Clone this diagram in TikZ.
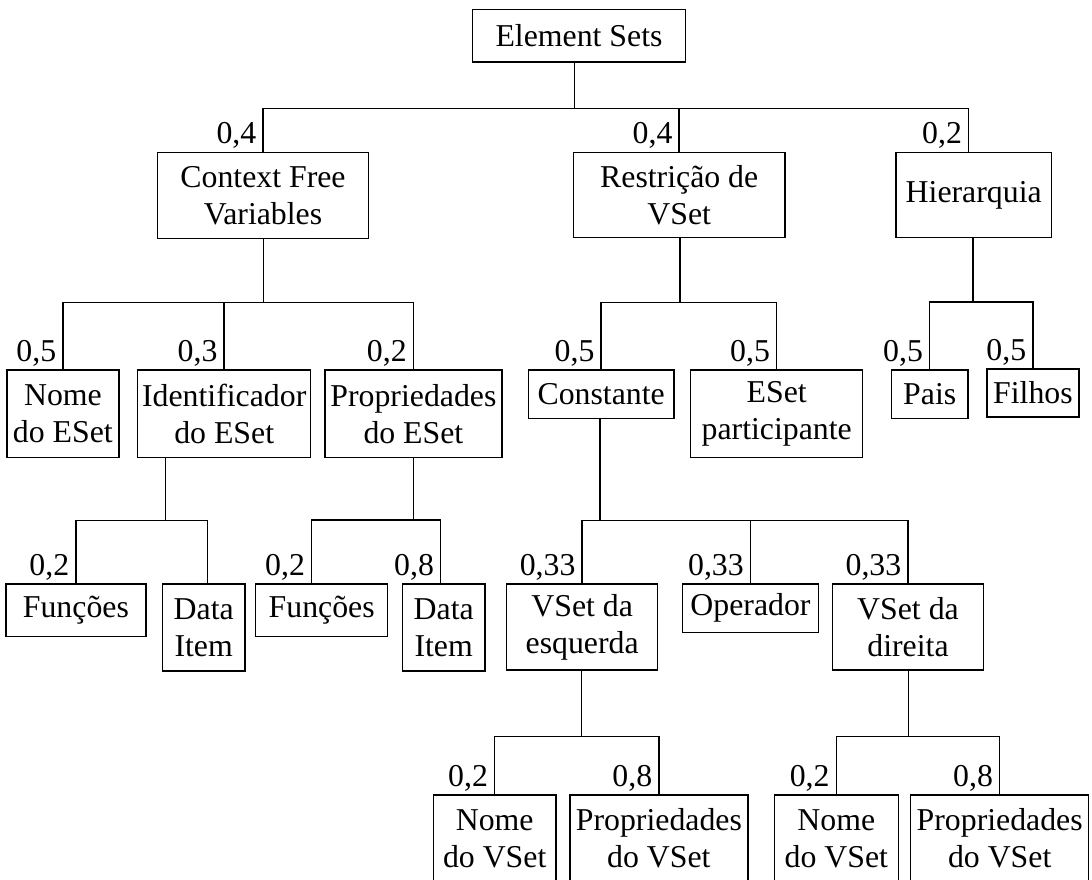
\documentclass[tikz,border=0pt]{standalone}
\usepackage{fontspec}
\setmainfont{Liberation Serif}
\usepackage{tikz}

\begin{document}
\begin{tikzpicture}[x=1pt, y=-1pt, line width=1.5pt,
	box/.style={draw, inner sep=0pt, align=center, font=\fontsize{31.8}{37}\selectfont},
	wt/.style={anchor=base east, xshift=-6pt, yshift=8pt, inner sep=0pt, font=\fontsize{31.8}{37}\selectfont}]
	\useasboundingbox (0,0) rectangle (1092,879);
	% level 0 and 1
	\node[box, minimum width=212.6pt, minimum height=52.7pt] (sets) at (579,35.7) {Element Sets};
	\node[box, minimum width=210.6pt, minimum height=86pt] (cfv) at (263,195.7) {Context Free\\Variables};
	\node[box, minimum width=211.7pt, minimum height=85pt] (restr) at (679.2,195.2) {Restrição de\\VSet};
	\node[box, minimum width=155.3pt, minimum height=85pt] (hier) at (973.7,195.2) {Hierarquia};
	% level 2
	\node[box, minimum width=112.3pt, minimum height=87.3pt] (nomeES) at (62.9,413.7) {Nome\\do ESet};
	\node[box, minimum width=173pt, minimum height=87.3pt] (idES) at (224.2,413.7) {Identificador\\do ESet};
	\node[box, minimum width=176.7pt, minimum height=87.3pt] (propES) at (413.4,413.7) {Propriedades\\do ESet};
	\node[box, minimum width=145.7pt, minimum height=48.3pt] (const) at (601.2,394.2) {Constante};
	\node[box, minimum width=172pt, minimum height=87.3pt] (esetp) at (776.7,413.7) {ESet\\participante};
	\node[box, minimum width=76.7pt, minimum height=48.3pt] (pais) at (929.7,394.2) {Pais};
	\node[box, minimum width=91.7pt, minimum height=48.3pt] (filhos) at (1032.9,393) {Filhos};
	% level 3
	\node[box, minimum width=139.7pt, minimum height=52.3pt] (funcA) at (75.9,610.2) {Funções};
	\node[box, minimum width=82.7pt, minimum height=86.7pt] (dataA) at (203.7,627.4) {Data\\Item};
	\node[box, minimum width=132pt, minimum height=52.3pt] (funcB) at (321.7,610.2) {Funções};
	\node[box, minimum width=82.7pt, minimum height=86.7pt] (dataB) at (443.7,627.4) {Data\\Item};
	\node[box, minimum width=151pt, minimum height=85.7pt] (vesq) at (582.2,626.9) {VSet da\\esquerda};
	\node[box, minimum width=135.6pt, minimum height=48.3pt] (oper) at (750.5,608.2) {Operador};
	\node[box, minimum width=150.6pt, minimum height=85.7pt] (vdir) at (908,626.9) {VSet da\\direita};
	% level 4
	\node[box, minimum width=122.7pt, minimum height=87pt] (nomeVA) at (494.7,838.5) {Nome\\do VSet};
	\node[box, minimum width=177.7pt, minimum height=87pt] (propVA) at (658.9,838.5) {Propriedades\\do VSet};
	\node[box, minimum width=124pt, minimum height=87pt] (nomeVB) at (836.3,838.5) {Nome\\do VSet};
	\node[box, minimum width=178pt, minimum height=87pt] (propVB) at (999.7,838.5) {Propriedades\\do VSet};
	% junctions
	\coordinate (jsets) at (574.5,108.3);
	\coordinate (jcfv) at (263.3,302.3);
	\coordinate (jrestr) at (680,302.3);
	\coordinate (jhier) at (973,302);
	\coordinate (jid) at (165.7,520.5);
	\coordinate (jprop) at (413.3,520);
	\coordinate (jconst) at (600,520.3);
	\coordinate (jvesq) at (581.7,736.5);
	\coordinate (jvdir) at (908.3,736.7);
	% connectors
	\draw (sets.south -| jsets) -- (jsets);
	\draw (cfv.north) node[wt] (wcfv) {0,4} |- (jsets);
	\draw (restr.north) node[wt] (wrestr) {0,4} |- (jsets);
	\draw ([xshift=-5pt]hier.north) node[wt] (whier) {0,2} |- (jsets);
	\draw (cfv.south -| jcfv) -- (jcfv);
	\draw (nomeES.north) node[wt] (wnomeES) {0,5} |- (jcfv);
	\draw (idES.north) node[wt] (widES) {0,3} |- (jcfv);
	\draw (propES.north) node[wt] (wpropES) {0,2} |- (jcfv);
	\draw (restr.south -| jrestr) -- (jrestr);
	\draw (const.north) node[wt] (wconst) {0,5} |- (jrestr);
	\draw (esetp.north) node[wt] (wesetp) {0,5} |- (jrestr);
	\draw (hier.south -| jhier) -- (jhier);
	\draw (pais.north) node[wt] (wpais) {0,5} |- (jhier);
	\draw (filhos.north) node[wt] (wfilhos) {0,5} |- (jhier);
	\draw (idES.south -| jid) -- (jid);
	\draw (funcA.north) node[wt] (wfuncA) {0,2} |- (jid);
	\draw ([xshift=4pt]dataA.north) |- (jid);
	\draw (propES.south -| jprop) -- (jprop);
	\draw ([xshift=-10pt]funcB.north) node[wt] (wfuncB) {0,2} |- (jprop);
	\draw ([xshift=-3pt]dataB.north) node[wt] (wdataB) {0,8} |- (jprop);
	\draw (const.south -| jconst) -- (jconst);
	\draw (vesq.north) node[wt] (wvesq) {0,33} |- (jconst);
	\draw (oper.north) node[wt] (woper) {0,33} |- (jconst);
	\draw (vdir.north) node[wt] (wvdir) {0,33} |- (jconst);
	\draw (vesq.south -| jvesq) -- (jvesq);
	\draw (nomeVA.north) node[wt] (wnomeVA) {0,2} |- (jvesq);
	\draw (propVA.north) node[wt] (wpropVA) {0,8} |- (jvesq);
	\draw (vdir.south -| jvdir) -- (jvdir);
	\draw (nomeVB.north) node[wt] (wnomeVB) {0,2} |- (jvdir);
	\draw (propVB.north) node[wt] (wpropVB) {0,8} |- (jvdir);
\end{tikzpicture}
\end{document}
